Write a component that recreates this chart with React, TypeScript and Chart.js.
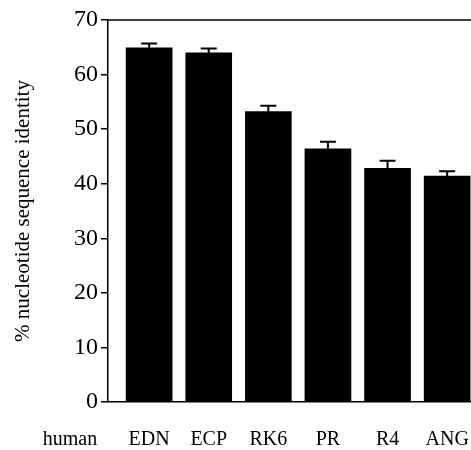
import React, { useEffect, useRef } from "react";
import { Chart, registerables } from "chart.js";

Chart.register(...registerables);

const categories = ["EDN", "ECP", "RK6", "PR", "R4", "ANG"];
const identity = [64.9, 64.0, 53.2, 46.4, 42.8, 41.4];
const errorUp = [0.8, 0.8, 1.1, 1.3, 1.4, 0.9];
const yTicks = [0, 10, 20, 30, 40, 50, 60, 70];
const rowLabel = "human";
const yTitle = "% nucleotide sequence identity";

const SERIF = "'Liberation Serif', 'Times New Roman', serif";

export default function App() {
  const ref = useRef<HTMLCanvasElement>(null);

  useEffect(() => {
    document.body.style.margin = "0";
    const canvas = ref.current;
    if (!canvas) return;

    const extras = {
      id: "extras",
      afterDatasetsDraw(chart: any) {
        const ctx = chart.ctx;
        const xs = chart.scales.x;
        const ys = chart.scales.y;
        const area = chart.chartArea;
        ctx.save();
        // error bars
        ctx.strokeStyle = "#000";
        ctx.lineWidth = 2;
        identity.forEach((v, i) => {
          const x = xs.getPixelForValue(i);
          const y0 = ys.getPixelForValue(v);
          const y1 = ys.getPixelForValue(v + errorUp[i]);
          ctx.beginPath();
          ctx.moveTo(x, y0);
          ctx.lineTo(x, y1);
          ctx.moveTo(x - 8, y1);
          ctx.lineTo(x + 8, y1);
          ctx.stroke();
        });
        // top frame line
        ctx.lineWidth = 1.5;
        ctx.beginPath();
        ctx.moveTo(area.left, area.top);
        ctx.lineTo(chart.width, area.top);
        ctx.stroke();
        // row label
        ctx.fillStyle = "#000";
        ctx.font = "20px " + SERIF;
        ctx.textAlign = "center";
        ctx.textBaseline = "middle";
        ctx.fillText(rowLabel, 70, xs.top + 26 + 12);
        ctx.restore();
      },
    };

    const chart = new Chart(canvas, {
      type: "bar",
      data: {
        datasets: [
          {
            data: identity.map((v, i) => ({ x: i, y: v })),
            backgroundColor: "#000",
            borderWidth: 0,
            barThickness: 46,
          },
        ],
      },
      options: {
        responsive: false,
        animation: false,
        layout: { padding: { top: 20, right: 0, left: 0, bottom: 0 } },
        plugins: { legend: { display: false }, tooltip: { enabled: false } },
        scales: {
          x: {
            type: "linear",
            offset: false,
            min: -0.69,
            max: 5.4,
            afterBuildTicks: (scale: any) => {
              scale.ticks = categories.map((_, i) => ({ value: i }));
            },
            afterFit: (scale: any) => {
              scale.height = 48;
              scale.paddingLeft = 0;
              scale.paddingRight = 0;
            },
            ticks: {
              autoSkip: false,
              maxRotation: 0,
              padding: 26,
              color: "#000",
              font: { family: SERIF, size: 20 },
              callback: (v: any) => categories[v] ?? "",
            },
            grid: { display: true, offset: false, drawOnChartArea: false, drawTicks: false },
            border: { display: true, color: "#000", width: 1.5 },
          },
          y: {
            min: 0,
            max: 70,
            afterBuildTicks: (scale: any) => {
              scale.ticks = yTicks.map((v) => ({ value: v }));
            },
            afterFit: (scale: any) => {
              scale.width = 108;
            },
            ticks: {
              padding: 3,
              color: "#000",
              font: { family: SERIF, size: 24 },
            },
            grid: {
              display: true,
              drawOnChartArea: false,
              drawTicks: true,
              tickLength: 7,
              color: "#000",
              lineWidth: 1.5,
            },
            border: { display: true, color: "#000", width: 1.5 },
            title: {
              display: true,
              text: yTitle,
              color: "#000",
              font: { family: SERIF, size: 21 },
              padding: { top: 11, bottom: 0 },
            },
          },
        },
      },
      plugins: [extras],
    });

    return () => chart.destroy();
  }, []);

  return (
    <div style={{ width: 471, height: 450 }}>
      <canvas ref={ref} width={471} height={450} style={{ width: 471, height: 450, display: "block" }} />
    </div>
  );
}
